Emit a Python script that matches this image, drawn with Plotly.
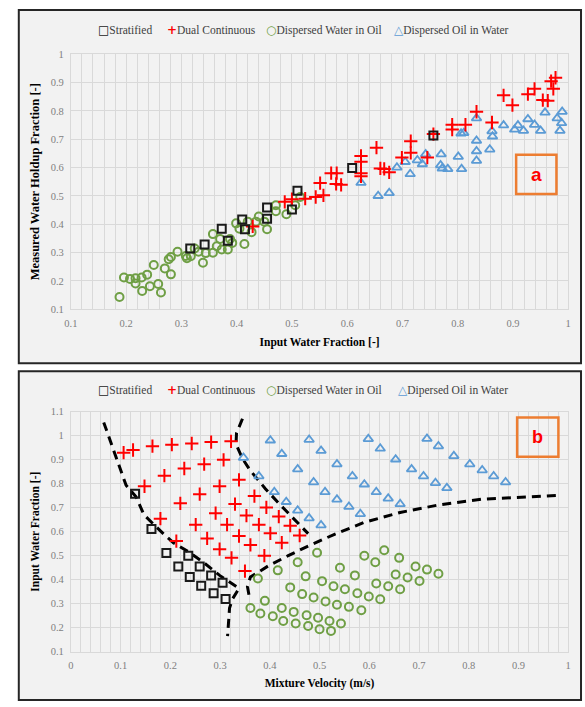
import plotly.graph_objects as go

# ---------------- Panel a data ----------------
strat_a_x = [0.316, 0.342, 0.373, 0.384, 0.410, 0.415, 0.455, 0.455, 0.500, 0.510, 0.609, 0.756]
strat_a_y = [0.314, 0.328, 0.384, 0.342, 0.417, 0.382, 0.459, 0.419, 0.452, 0.518, 0.598, 0.713]

dual_a_x = [0.429, 0.487, 0.500, 0.524, 0.543, 0.557, 0.551, 0.571, 0.581, 0.580, 0.589, 0.625, 0.625,
            0.625, 0.625, 0.653, 0.660, 0.667, 0.676, 0.715, 0.715, 0.699, 0.745, 0.756, 0.790, 0.790,
            0.814, 0.834, 0.862, 0.883, 0.899, 0.927, 0.939, 0.954, 0.963, 0.969, 0.977, 0.973]
dual_a_y = [0.392, 0.479, 0.488, 0.490, 0.496, 0.502, 0.545, 0.580, 0.580, 0.542, 0.539, 0.641, 0.620,
            0.580, 0.569, 0.670, 0.597, 0.595, 0.583, 0.693, 0.652, 0.635, 0.635, 0.718, 0.751, 0.734,
            0.751, 0.797, 0.759, 0.855, 0.820, 0.859, 0.878, 0.838, 0.836, 0.905, 0.917, 0.878]

dwo_a_x = [0.188, 0.196, 0.207, 0.217, 0.217, 0.228, 0.238, 0.229, 0.243, 0.258, 0.263, 0.250, 0.270,
           0.281, 0.277, 0.281, 0.293, 0.308, 0.310, 0.317, 0.324, 0.331, 0.339, 0.344, 0.357, 0.357,
           0.364, 0.370, 0.373, 0.384, 0.388, 0.392, 0.399, 0.405, 0.414, 0.420, 0.427, 0.435, 0.440,
           0.450, 0.455, 0.471, 0.471, 0.490, 0.506, 0.515]
dwo_a_y = [0.143, 0.212, 0.207, 0.209, 0.191, 0.212, 0.222, 0.164, 0.181, 0.189, 0.159, 0.256, 0.244,
           0.223, 0.276, 0.284, 0.303, 0.288, 0.280, 0.287, 0.314, 0.303, 0.264, 0.298, 0.299, 0.365,
           0.322, 0.348, 0.311, 0.311, 0.348, 0.334, 0.403, 0.384, 0.330, 0.409, 0.372, 0.409, 0.427,
           0.409, 0.382, 0.467, 0.446, 0.435, 0.467, 0.496]

dow_a_x = [0.625, 0.656, 0.676, 0.690, 0.705, 0.714, 0.727, 0.736, 0.742, 0.770, 0.769, 0.772, 0.782,
           0.801, 0.807, 0.806, 0.811, 0.834, 0.834, 0.834, 0.834, 0.858, 0.862, 0.863, 0.883, 0.903,
           0.909, 0.919, 0.927, 0.939, 0.950, 0.958, 0.980, 0.989, 0.988, 0.985]
dow_a_y = [0.546, 0.500, 0.510, 0.600, 0.620, 0.577, 0.626, 0.612, 0.647, 0.647, 0.608, 0.597, 0.595,
           0.638, 0.595, 0.720, 0.722, 0.774, 0.695, 0.658, 0.624, 0.664, 0.728, 0.710, 0.749, 0.734,
           0.749, 0.730, 0.771, 0.751, 0.730, 0.794, 0.774, 0.797, 0.757, 0.730]

# ---------------- Panel b data ----------------
strat_b_x = [0.129, 0.162, 0.192, 0.236, 0.216, 0.259, 0.239, 0.282, 0.262, 0.305, 0.287, 0.311]
strat_b_y = [0.758, 0.611, 0.511, 0.500, 0.455, 0.455, 0.411, 0.418, 0.375, 0.387, 0.344, 0.320]

dual_b_x = [0.106, 0.125, 0.164, 0.203, 0.243, 0.282, 0.322, 0.307, 0.268, 0.228, 0.188, 0.148, 0.338,
            0.299, 0.259, 0.220, 0.180, 0.369, 0.330, 0.291, 0.251, 0.212, 0.393, 0.353, 0.314, 0.274,
            0.418, 0.378, 0.338, 0.299, 0.441, 0.401, 0.361, 0.323, 0.460, 0.424, 0.389, 0.350]
dual_b_y = [0.929, 0.940, 0.956, 0.962, 0.967, 0.973, 0.976, 0.899, 0.881, 0.863, 0.833, 0.789, 0.816,
            0.789, 0.756, 0.718, 0.654, 0.748, 0.715, 0.677, 0.629, 0.561, 0.701, 0.667, 0.629, 0.572,
            0.663, 0.629, 0.582, 0.527, 0.625, 0.593, 0.545, 0.491, 0.584, 0.554, 0.500, 0.436]

dwo_b_x = [0.361, 0.376, 0.381, 0.390, 0.406, 0.416, 0.424, 0.427, 0.441, 0.448, 0.452, 0.456, 0.465,
           0.472, 0.474, 0.477, 0.488, 0.495, 0.497, 0.500, 0.505, 0.512, 0.520, 0.523, 0.528, 0.535,
           0.541, 0.543, 0.551, 0.559, 0.571, 0.576, 0.584, 0.590, 0.599, 0.612, 0.614, 0.622, 0.630,
           0.638, 0.653, 0.660, 0.662, 0.677, 0.693, 0.701, 0.716, 0.739]
dwo_b_y = [0.282, 0.405, 0.259, 0.312, 0.248, 0.439, 0.282, 0.228, 0.368, 0.266, 0.218, 0.473, 0.340,
           0.414, 0.252, 0.207, 0.326, 0.512, 0.242, 0.194, 0.394, 0.309, 0.228, 0.187, 0.373, 0.296,
           0.450, 0.218, 0.360, 0.287, 0.418, 0.344, 0.273, 0.500, 0.330, 0.473, 0.384, 0.319, 0.523,
           0.373, 0.422, 0.491, 0.360, 0.409, 0.455, 0.395, 0.442, 0.425]

dow_b_x = [0.347, 0.378, 0.409, 0.433, 0.456, 0.479, 0.503,
           0.401, 0.424, 0.456, 0.488, 0.511, 0.535, 0.559, 0.582,
           0.479, 0.503, 0.535, 0.566, 0.590, 0.614, 0.638, 0.662,
           0.598, 0.622, 0.653, 0.685, 0.709, 0.733, 0.756,
           0.716, 0.739, 0.770, 0.802, 0.827, 0.850, 0.874]
dow_b_y = [0.908, 0.831, 0.765, 0.724, 0.688, 0.656, 0.627,
           0.980, 0.924, 0.860, 0.806, 0.765, 0.734, 0.704, 0.674,
           0.983, 0.937, 0.881, 0.831, 0.797, 0.765, 0.738, 0.715,
           0.986, 0.946, 0.901, 0.860, 0.831, 0.803, 0.782,
           0.987, 0.956, 0.915, 0.881, 0.856, 0.831, 0.806]

# flow-regime boundaries (dashed)
bound1_x = [0.066, 0.094, 0.111, 0.131, 0.147, 0.187, 0.206, 0.239, 0.266, 0.299, 0.338, 0.325, 0.319, 0.315]
bound1_y = [1.055, 0.895, 0.793, 0.745, 0.670, 0.589, 0.554, 0.513, 0.473, 0.418, 0.364, 0.320, 0.282, 0.165]
bound2_x = [0.345, 0.333, 0.332, 0.345, 0.361, 0.391, 0.418, 0.447, 0.477]
bound2_y = [1.070, 1.010, 0.965, 0.904, 0.854, 0.779, 0.718, 0.656, 0.592]
bound3_x = [0.358, 0.355, 0.361, 0.398, 0.437, 0.477, 0.530, 0.589, 0.662, 0.741, 0.826, 0.925, 0.985]
bound3_y = [0.337, 0.371, 0.411, 0.459, 0.500, 0.540, 0.589, 0.638, 0.680, 0.712, 0.735, 0.746, 0.752]

# ---------------- styling ----------------
BLACK = "#1a1a1a"
RED = "#ff0000"
GREEN = "#6f9f45"
BLUE = "#5b9bd5"
SERIF = "Liberation Serif"
GRID = "#d9d9d9"

W, H = 585, 707


def px_x(p):
    return p / W


def px_y(p):
    return 1 - p / H


fig = go.Figure()


def add_markers(x, y, xa, ya, kind):
    if kind == "strat":
        m = dict(symbol="square-open", size=8, color=BLACK, line=dict(width=2, color=BLACK))
    elif kind == "dual":
        m = dict(symbol="cross-thin", size=9.5, color=RED, line=dict(width=2, color=RED))
    elif kind == "dwo":
        m = dict(symbol="circle-open", size=8, color=GREEN, line=dict(width=2, color=GREEN))
    else:
        m = dict(symbol="triangle-up-open", size=8.5, color=BLUE, line=dict(width=1.8, color=BLUE))
    fig.add_trace(go.Scatter(x=x, y=y, mode="markers", marker=m, xaxis=xa, yaxis=ya,
                             showlegend=False, hoverinfo="x+y"))


# panel a
add_markers(dwo_a_x, dwo_a_y, "x", "y", "dwo")
add_markers(dow_a_x, dow_a_y, "x", "y", "dow")
add_markers(dual_a_x, dual_a_y, "x", "y", "dual")
add_markers(strat_a_x, strat_a_y, "x", "y", "strat")

# panel b
for bx, by in [(bound1_x, bound1_y), (bound2_x, bound2_y), (bound3_x, bound3_y)]:
    fig.add_trace(go.Scatter(x=bx, y=by, mode="lines", xaxis="x2", yaxis="y2", showlegend=False,
                             line=dict(color="black", width=3, dash="9px,6px"), hoverinfo="skip"))
add_markers(dwo_b_x, dwo_b_y, "x2", "y2", "dwo")
add_markers(dow_b_x, dow_b_y, "x2", "y2", "dow")
add_markers(dual_b_x, dual_b_y, "x2", "y2", "dual")
add_markers(strat_b_x, strat_b_y, "x2", "y2", "strat")

axis_common = dict(
    showgrid=True, gridcolor=GRID, gridwidth=1,
    zeroline=False, showline=True, mirror=True, linecolor=GRID, linewidth=1,
    ticks="outside", ticklen=4, tickcolor="rgba(0,0,0,0)",
    tickfont=dict(family=SERIF, size=10.5, color="#7f7f7f"),
    title_font=dict(family=SERIF, size=11.5, color="black"),
    fixedrange=True,
)

xdom = [px_x(65), px_x(571)]
fig.update_layout(
    width=W, height=H,
    margin=dict(l=0, r=0, t=0, b=0),
    paper_bgcolor="white", plot_bgcolor="white",
    showlegend=False,
    xaxis=dict(axis_common, domain=xdom, range=[0.1, 1.0], dtick=0.1, tick0=0,
               minor=dict(dtick=0.02, showgrid=True, gridcolor=GRID),
               anchor="y", title=dict(text="<b>Input Water Fraction [-]</b>", standoff=10)),
    yaxis=dict(axis_common, domain=[px_y(309), px_y(50)], range=[0.1, 1.0], dtick=0.1, tick0=0,
               anchor="x", title=dict(text="<b>Measured Water Holdup Fraction [-]</b>", standoff=8,
                                      font=dict(family=SERIF, size=12.5, color="black"))),
    xaxis2=dict(axis_common, domain=xdom, range=[0, 1.0], dtick=0.1, tick0=0,
                minor=dict(dtick=0.02, showgrid=True, gridcolor=GRID),
                anchor="y2", title=dict(text="<b>Mixture Velocity (m/s)</b>", standoff=8)),
    yaxis2=dict(axis_common, domain=[px_y(657), px_y(413)], range=[0.1, 1.1], dtick=0.1, tick0=0,
                anchor="x2", title=dict(text="<b>Input Water Fraction [-]</b>", standoff=8)),
)

shapes = []
# panel frames
for (x0, y0, x1, y1) in [(12, 5, 584, 364), (12, 372, 584, 706)]:
    shapes.append(dict(type="rect", xref="paper", yref="paper", layer="below",
                       x0=px_x(x0), x1=px_x(x1), y0=px_y(y1), y1=px_y(y0),
                       fillcolor="#f2f2f2", line=dict(color="#262626", width=2)))
# label boxes
for (x0, y0, x1, y1) in [(518, 152, 559, 192), (519, 419, 561, 459)]:
    shapes.append(dict(type="rect", xref="paper", yref="paper", layer="above",
                       x0=px_x(x0), x1=px_x(x1), y0=px_y(y1), y1=px_y(y0),
                       fillcolor="rgba(0,0,0,0)", line=dict(color="#ed7d31", width=2.5)))
fig.update_layout(shapes=shapes)

ann = []
legend_items = [
    ("□", BLACK, "Stratified", 91),
    ("+", RED, "Dual Continuous", 161),
    ("○", GREEN, "Dispersed Water in Oil", 261),
]
for ypix, last_lbl, last_x in [(25, "Dispersed Oil in Water", 392), (391, "Dipersed Oil in Water", 396)]:
    items = legend_items + [("△", BLUE, last_lbl, last_x)]
    for sym, col, lbl, xl in items:
        ann.append(dict(xref="paper", yref="paper", x=px_x(xl), y=px_y(ypix), xanchor="left",
                        yanchor="middle", showarrow=False,
                        text=(f"<b><span style='color:{col};font-family:DejaVu Sans;font-size:12px'>"
                              f"{sym}</span></b>{lbl}"),
                        font=dict(family=SERIF, size=11.5, color="#404040")))
for lbl, cx, cy, fs in [("a", 538.5, 172, 19), ("b", 540, 439, 18)]:
    ann.append(dict(xref="paper", yref="paper", x=px_x(cx), y=px_y(cy), xanchor="center",
                    yanchor="middle", showarrow=False, text=f"<b>{lbl}</b>",
                    font=dict(family="Liberation Sans", size=fs, color="#ff0000")))
fig.update_layout(annotations=ann)

fig.write_html("out.html",
               config={"displayModeBar": False},
               post_script="document.body.style.margin='0';document.body.style.overflow='hidden';")
